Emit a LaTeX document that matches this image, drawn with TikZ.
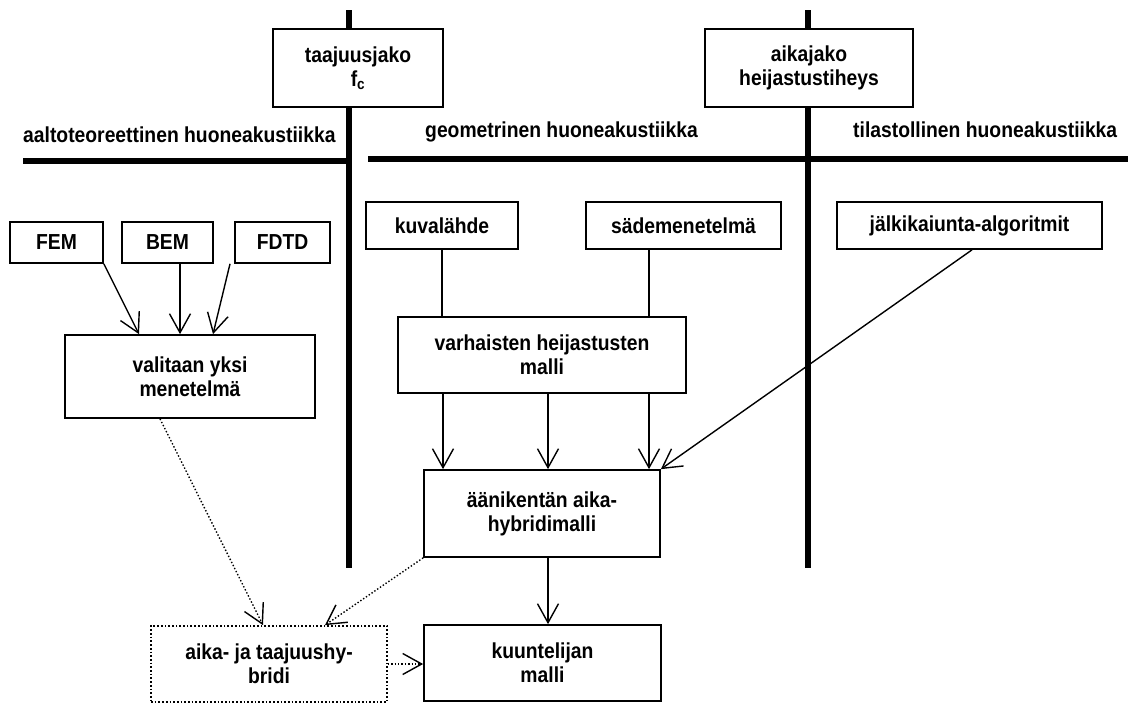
\documentclass[tikz,border=0pt]{standalone}
\usepackage{fontspec}
\setmainfont{Liberation Sans}[FakeStretch=0.89]
\usepackage{tikz}
\usetikzlibrary{arrows.meta}
\def\boxline{1.7pt}
\def\arrline{1.4pt}
\def\barline{6pt}
\def\boxfont{\fontsize{21.7}{24}\selectfont\bfseries}
\tikzset{barb/.style={-{Straight Barb[length=19pt,width=21pt]},line width=\arrline}}
\newcommand{\flowbox}[6]{\node[draw,rectangle,line width=\boxline,fill=white,minimum width=#4pt,minimum height=#5pt,inner sep=0pt,align=center,font=\boxfont] (#3) at (#1,#2) {#6};}

\begin{document}
\begin{tikzpicture}[x=1pt,y=-1pt]
				\useasboundingbox (0,0) rectangle (1133,704);

				\draw[line width=\barline] (349,10) -- (349,568);
				\draw[line width=\barline] (808,10) -- (808,568);
				\draw[line width=\barline] (23,161) -- (352,161);
				\draw[line width=\barline] (368,159) -- (1128,159);

				\node[anchor=base west,inner sep=0pt,font=\boxfont] (aalto) at (23,142) {aaltoteoreettinen huoneakustiikka};
				\node[anchor=base west,inner sep=0pt,font=\boxfont] (geom) at (425,137) {geometrinen huoneakustiikka};
				\node[anchor=base west,inner sep=0pt,font=\boxfont] (tilasto) at (853,137) {tilastollinen huoneakustiikka};

				\flowbox{358}{68}{taajuus}{170}{78}{taajuusjako\\f\textsubscript{c}}
				\flowbox{809}{68}{aikajako}{208}{78}{aikajako\\heijastustiheys}
				\flowbox{56.5}{242.5}{FEM}{93}{41}{FEM}
				\flowbox{167.5}{242.5}{BEM}{91}{41}{BEM}
				\flowbox{282.5}{242.5}{FDTD}{95}{41}{FDTD}
				\flowbox{190}{376.5}{valitaan}{250}{83}{valitaan yksi\\menetelmä}
				\flowbox{442}{225.5}{kuva}{152}{47}{kuvalähde}
				\flowbox{683.5}{225.5}{sade}{195}{47}{sädemenetelmä}
				\flowbox{969.5}{225.5}{jalki}{265}{47}{jälkikaiunta-algoritmit}
				\flowbox{542}{355}{varhaiset}{288}{76}{varhaisten heijastusten\\malli}
				\flowbox{542}{513.5}{aanikentta}{236}{87}{äänikentän aika-\\hybridimalli}
				\flowbox{542.5}{663}{kuuntelija}{237}{76}{kuuntelijan\\malli}
				\node[draw,dotted,rectangle,line width=\boxline,fill=white,minimum width=236pt,minimum height=76pt,inner sep=0pt,align=center,font=\boxfont] (hybridi) at (269,664) {aika- ja taajuushy-\\bridi};

				\draw[barb] (FEM.south east) -- ([xshift=-51pt]valitaan.north);
				\draw[barb] ([xshift=12.5pt]BEM.south) -- ([xshift=-10pt]valitaan.north);
				\draw[barb] ([xshift=-52.5pt]FDTD.south) -- ([xshift=23pt]valitaan.north);
				\draw[line width=\arrline] (kuva.south) -- ([xshift=-100pt]varhaiset.north);
				\draw[line width=\arrline] ([xshift=-34.5pt]sade.south) -- ([xshift=107pt]varhaiset.north);
				\draw[barb] ([xshift=-99pt]varhaiset.south) -- ([xshift=-99pt]aanikentta.north);
				\draw[barb] ([xshift=6pt]varhaiset.south) -- ([xshift=6pt]aanikentta.north);
				\draw[barb] ([xshift=107pt]varhaiset.south) -- ([xshift=107pt]aanikentta.north);
				\draw[barb] ([xshift=2.5pt]jalki.south) -- (aanikentta.north east);
				\draw[barb] ([xshift=6pt]aanikentta.south) -- ([xshift=5.5pt]kuuntelija.north);
				\draw[barb,dotted] ([xshift=-30pt]valitaan.south) -- ([xshift=-6pt]hybridi.north);
				\draw[barb,dotted] (aanikentta.south west) -- ([xshift=56pt]hybridi.north);
				\draw[barb,dotted] (hybridi.east) -- (kuuntelija.west |- hybridi.east);
\end{tikzpicture}
\end{document}
